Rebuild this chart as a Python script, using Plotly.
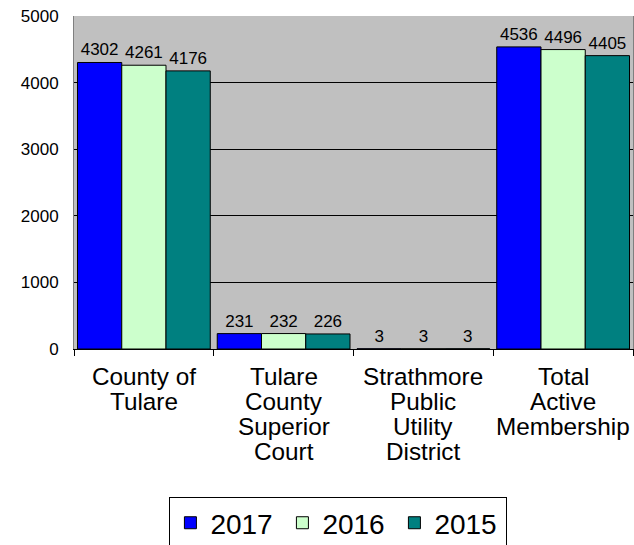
import plotly.graph_objects as go

categories = ["County of Tulare", "Tulare County Superior Court",
              "Strathmore Public Utility District", "Total Active Membership"]
category_lines = [["County of", "Tulare"], ["Tulare", "County", "Superior", "Court"],
                  ["Strathmore", "Public", "Utility", "District"], ["Total", "Active", "Membership"]]
series_names = ["2017", "2016", "2015"]
values_2017 = [4302, 231, 3, 4536]
values_2016 = [4261, 232, 3, 4496]
values_2015 = [4176, 226, 3, 4405]
colors = ["#0000FF", "#CCFFCC", "#008080"]
y_ticks = [0, 1000, 2000, 3000, 4000, 5000]

FONT = "Liberation Sans, Arial, sans-serif"

fig = go.Figure()
for name, vals, col in zip(series_names, [values_2017, values_2016, values_2015], colors):
    fig.add_trace(go.Bar(
        x=categories, y=vals, name=name,
        marker=dict(color=col, line=dict(color="#000000", width=1)),
        text=[str(v) for v in vals], textposition="outside",
        textfont=dict(family=FONT, size=17, color="black"),
        cliponaxis=False,
    ))

# category labels, one text line per annotation (tight line spacing)
for cat, lines in zip(categories, category_lines):
    for i, line in enumerate(lines):
        fig.add_annotation(
            x=cat, xref="x", y=0, yref="paper", text=line, showarrow=False,
            xanchor="center", yanchor="middle", yshift=-27 - 25.2 * i,
            font=dict(family=FONT, size=24.3, color="black"),
        )

fig.update_layout(
    width=634, height=545,
    margin=dict(l=74, r=1, t=16, b=196),
    paper_bgcolor="white", plot_bgcolor="#C0C0C0",
    barmode="group", bargap=0.05, bargroupgap=0,
    font=dict(family=FONT, color="black"),
    legend=dict(
        orientation="h", x=0.473, xanchor="center", xref="paper",
        y=0.088, yanchor="top", yref="container",
        font=dict(family=FONT, size=28, color="black"),
        bordercolor="#000000", borderwidth=1, bgcolor="white",
        entrywidth=67, entrywidthmode="pixels",
    ),
    showlegend=True,
)
fig.update_yaxes(
    range=[0, 5000], tickvals=y_ticks, showgrid=True, gridcolor="#000000", gridwidth=1,
    tickfont=dict(family=FONT, size=17, color="black"),
    showline=True, linecolor="#808080", linewidth=1, mirror=True,
    ticks="", zeroline=False, ticklabelstandoff=11,
)
fig.update_xaxes(
    showticklabels=False,
    showline=True, linecolor="#000000", linewidth=1,
    ticks="outside", tickson="boundaries", ticklen=6, tickcolor="#000000",
    mirror=False,
)

fig.write_html("out.html", config={"displayModeBar": False},
               post_script="document.body.style.margin='0';document.body.style.overflow='hidden';")
